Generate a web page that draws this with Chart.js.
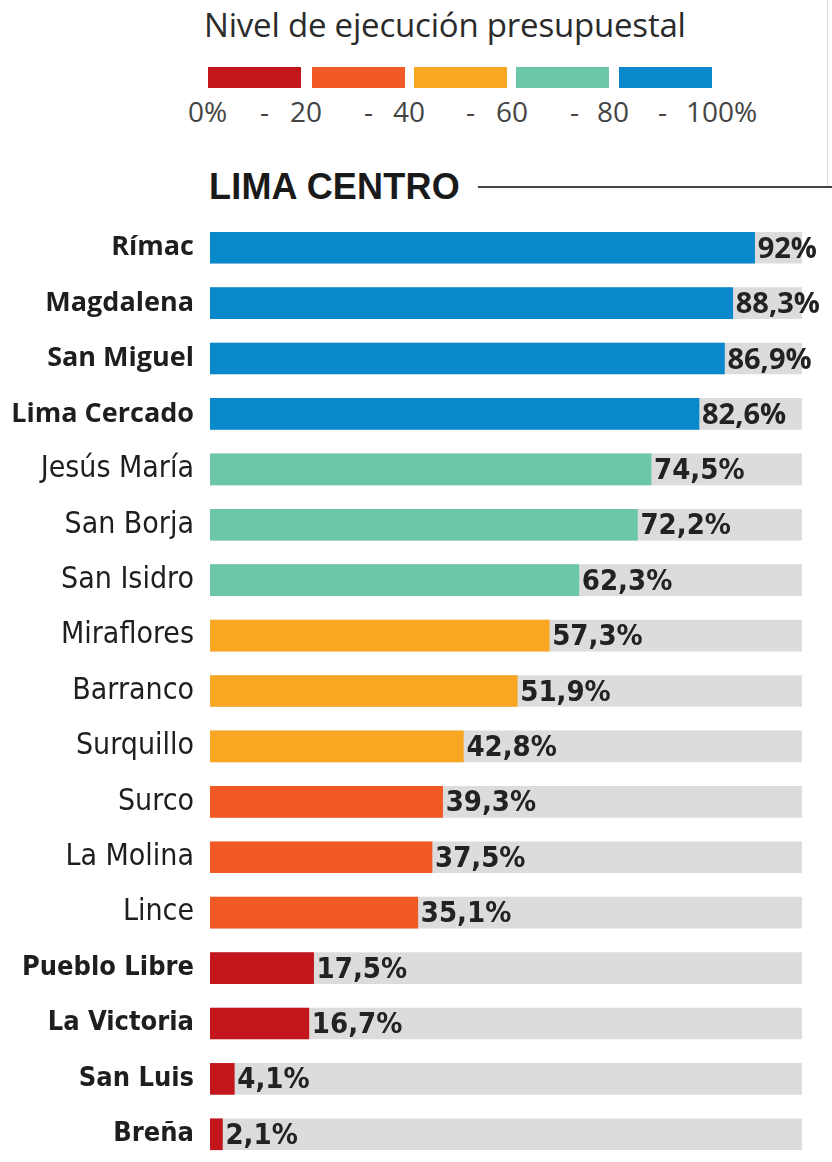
<!DOCTYPE html>
<html>
<head>
<meta charset="utf-8">
<script src="https://cdn.jsdelivr.net/npm/chart.js@4"></script>
<style>
  html, body { margin: 0; padding: 0; background: #fff; overflow: hidden; }
  #page { position: relative; width: 832px; height: 1162px; }
  .abs { position: absolute; white-space: nowrap; }
  #legendTitle { left: 204px; top: 2px; font: 33px "Open Sans", sans-serif; color: #2b2b2b; letter-spacing: -0.2px; }
  .sw { position: absolute; top: 67px; height: 21px; }
  .tick { position: absolute; top: 92px; font: 28px "Open Sans", sans-serif; color: #444; }
  #section { left: 209px; top: 166px; font: bold 36px "Liberation Sans", sans-serif; letter-spacing: 0.2px; color: #1a1a1a; }
  #rule { position: absolute; left: 478px; top: 186px; width: 354px; height: 2px; background: #444; }
  #vrule { position: absolute; left: 827px; top: 0; width: 1px; height: 186px; background: #ddd; }
  #wrap { position: absolute; left: 0; top: 220px; width: 832px; height: 942px; }
</style>
</head>
<body>
<div id="page">
  <div id="legendTitle" class="abs">Nivel de ejecución presupuestal</div>
  <div id="swatches"></div>
  <div id="ticks"></div>
  <div id="section" class="abs">LIMA CENTRO</div>
  <div id="rule"></div>
  <div id="vrule"></div>
  <div id="wrap"><canvas id="chart"></canvas></div>
</div>
<script>
const districts = ['Rímac', 'Magdalena', 'San Miguel', 'Lima Cercado', 'Jesús María', 'San Borja',
  'San Isidro', 'Miraflores', 'Barranco', 'Surquillo', 'Surco', 'La Molina', 'Lince',
  'Pueblo Libre', 'La Victoria', 'San Luis', 'Breña'];
const execution = [92, 88.3, 86.9, 82.6, 74.5, 72.2, 62.3, 57.3, 51.9, 42.8, 39.3, 37.5, 35.1, 17.5, 16.7, 4.1, 2.1];
const bandLimits = [20, 40, 60, 80, 100];
const bandColors = ['#c3161c', '#f15a24', '#f9a622', '#6cc6aa', '#0a88cc'];
const scaleLabels = ['0%', '20', '40', '60', '80', '100%'];

const bandColor = v => bandColors[bandLimits.findIndex(l => v <= l)];

// Legend swatches and scale labels
const swLeft = [208, 312, 414, 516, 619];
const swatches = document.getElementById('swatches');
bandColors.forEach((c, i) => {
  const d = document.createElement('div');
  d.className = 'sw';
  d.style.left = swLeft[i] + 'px';
  d.style.width = '93px';
  d.style.background = c;
  swatches.appendChild(d);
});
const tickLeft = [188, 290, 393, 496, 597, 686];
const dashLeft = [260, 364, 466, 570, 658];
const ticks = document.getElementById('ticks');
scaleLabels.forEach((t, i) => {
  const s = document.createElement('span');
  s.className = 'tick';
  s.style.left = tickLeft[i] + 'px';
  s.textContent = t;
  ticks.appendChild(s);
  if (i < dashLeft.length) {
    const d = document.createElement('span');
    d.className = 'tick';
    d.style.left = dashLeft[i] + 'px';
    d.textContent = '-';
    ticks.appendChild(d);
  }
});

const wideFont = '"Open Sans", sans-serif';
const narrowFont = '"Liberation Sans Narrow", "DejaVu Sans Condensed", sans-serif';
const labelFont = i => {
  if (i < 4) return { family: wideFont, size: 27, weight: 'bold' };
  if (i < 13) return { family: narrowFont, size: 30, weight: 'normal' };
  return { family: narrowFont, size: 27, weight: 'bold' };
};

// Value labels at the end of each bar
const valueLabels = {
  id: 'valueLabels',
  afterDatasetsDraw(chart) {
    const ctx = chart.ctx;
    chart.getDatasetMeta(0).data.forEach((bar, i) => {
      const f = i < 4 ? 'bold 29px ' + wideFont : 'bold 29px ' + narrowFont;
      ctx.save();
      ctx.font = f;
      ctx.fillStyle = '#222';
      ctx.textBaseline = 'middle';
      ctx.fillText(String(execution[i]).replace('.', ',') + '%', bar.x + 3, bar.y + 2);
      ctx.restore();
    });
  }
};

new Chart(document.getElementById('chart'), {
  type: 'bar',
  data: {
    labels: districts,
    datasets: [
      { data: execution, backgroundColor: execution.map(bandColor), barThickness: 31, grouped: false },
      { data: districts.map(() => 100), backgroundColor: '#dcdcdc', barThickness: 31, grouped: false }
    ]
  },
  options: {
    indexAxis: 'y',
    responsive: true,
    maintainAspectRatio: false,
    animation: false,
    layout: { padding: { left: 0, right: 30, top: 0, bottom: 0 } },
    plugins: { legend: { display: false }, tooltip: { enabled: false } },
    scales: {
      x: { display: false, min: 0, max: 100 },
      y: {
        grid: { display: false, drawTicks: false },
        border: { display: false },
        ticks: { color: '#1e1e1e', padding: 16, font: ctx => labelFont(ctx.index) },
        afterFit: s => { s.width = 210; s.paddingTop = 0; s.paddingBottom = 0; }
      }
    }
  },
  plugins: [valueLabels]
});
</script>
</body>
</html>
